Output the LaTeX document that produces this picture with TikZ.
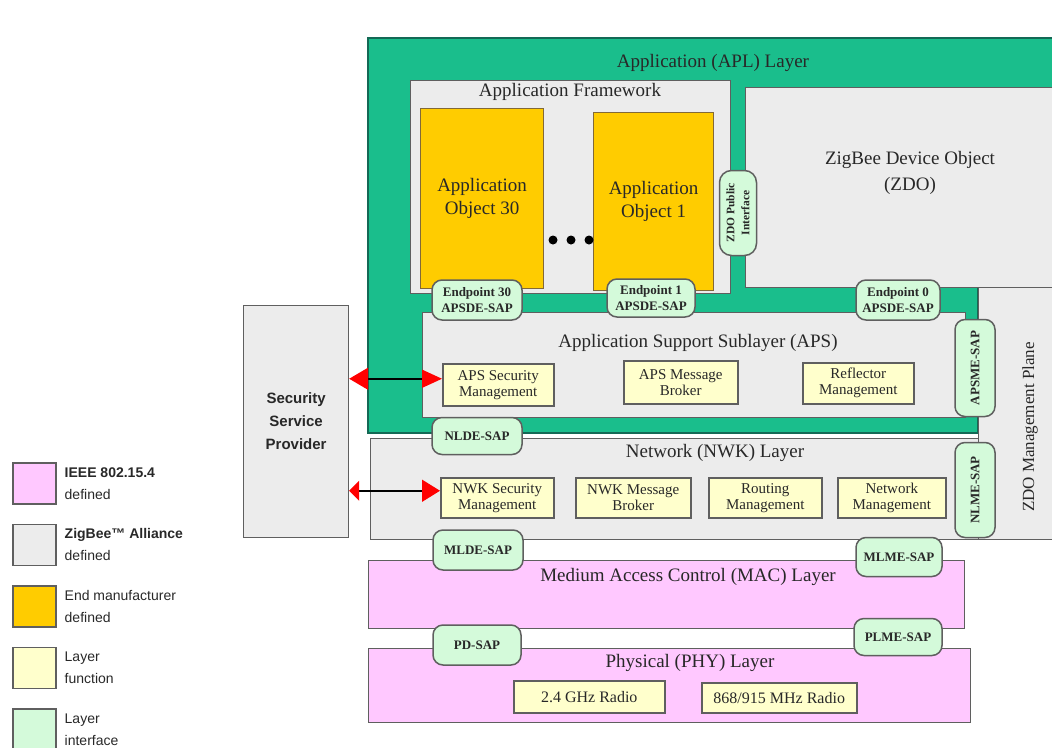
\documentclass[tikz,border=0pt]{standalone}
\usepackage{fontspec}
\setmainfont{Liberation Serif}
\setsansfont{Liberation Sans}
\usetikzlibrary{shapes.geometric, arrows, arrows.meta, positioning, calc}

\definecolor{aplgreen}{RGB}{26,190,140}
\definecolor{apledge}{RGB}{20,105,85}
\definecolor{zbgray}{RGB}{236,236,236}
\definecolor{linegray}{RGB}{95,95,95}
\definecolor{mfrorange}{RGB}{255,204,0}
\definecolor{mfredge}{RGB}{130,105,55}
\definecolor{funcyellow}{RGB}{255,255,204}
\definecolor{sapgreen}{RGB}{212,250,218}
\definecolor{ieeepink}{RGB}{255,200,255}
\definecolor{txtgray}{RGB}{40,40,40}

\begin{document}
\begin{tikzpicture}[x=1pt, y=-1pt, node distance=19pt]
        \tikzstyle{ttl} = [font=\fontsize{19}{22}\selectfont, text=txtgray, inner sep=0pt]
        \tikzstyle{zbbox} = [rectangle, anchor=north west, draw=linegray, line width=1.2pt, fill=zbgray, inner sep=0pt]
        \tikzstyle{ieeebox} = [zbbox, fill=ieeepink]
        \tikzstyle{appobj} = [zbbox, draw=mfredge, fill=mfrorange, align=center, text=txtgray, font=\fontsize{19}{23}\selectfont]
        \tikzstyle{func} = [rectangle, anchor=north west, draw=linegray, line width=1.5pt, fill=funcyellow, align=center, text=txtgray, inner sep=0pt, font=\fontsize{15}{16}\selectfont]
        \tikzstyle{sap} = [rectangle, rounded corners=10pt, draw=linegray, line width=1.5pt, fill=sapgreen, align=center, text=txtgray, inner sep=0pt, font=\bfseries\fontsize{13}{16}\selectfont]
        \tikzstyle{vsap} = [sap, rotate=90]
        \tikzstyle{legbox} = [rectangle, anchor=north west, draw=linegray, line width=1.5pt, minimum width=43pt, minimum height=41pt, inner sep=0pt]
        \tikzstyle{legtxt} = [align=left, inner sep=0pt, text=txtgray, font=\sffamily\fontsize{14}{22}\selectfont]
        \tikzstyle{secarrow} = [line width=1.5pt, black]

        \useasboundingbox (0,0) rectangle (1052,747);

        \draw [fill=aplgreen, draw=apledge, line width=1.5pt] (368,38) -- (1060,38) -- (1060,287) -- (978,287) -- (978,433) -- (368,433) -- cycle;
        \node (aplttl) [ttl] at (713,63) {Application (APL) Layer};

        \node (af) [zbbox, minimum width=320pt, minimum height=213pt] at (410,80) {};
        \node (afttl) [ttl] at (570,92) {Application Framework};
        \node (obj30) [appobj, minimum width=123pt, minimum height=180pt] at (420,108) {Application\\Object 30};
        \node (obj1) [appobj, minimum width=120pt, minimum height=178pt] at (593,112) {Application\\Object 1};
        \foreach \dx in {553,571,589}
            \fill [black] (\dx,240) circle (4.5pt);

        \node (zdo) [zbbox, minimum width=315pt, minimum height=200pt] at (745,87) {};
        \node (zdottl) [ttl, align=center, font=\fontsize{19}{26}\selectfont] at (910,173) {ZigBee Device Object\\(ZDO)};

        \node (aps) [zbbox, minimum width=543pt, minimum height=105pt] at (422,312) {};
        \node (apsttl) [ttl] at (698,343) {Application Support Sublayer (APS)};
        \node (apssec) [func, minimum width=111pt, minimum height=42pt] at (442,363) {APS Security\\Management};
        \node (apsmb) [func, minimum width=114pt, minimum height=43pt] at (623,360) {APS Message\\Broker};
        \node (refl) [func, minimum width=111pt, minimum height=41pt] at (802,362) {Reflector\\Management};

        \node (zdomp) [zbbox, minimum width=82pt, minimum height=252pt] at (978,287) {};
        \node (zdompttl) [ttl, rotate=90, font=\fontsize{17}{20}\selectfont] at (1030,427) {ZDO Management Plane};

        \node (ssp) [zbbox, minimum width=105pt, minimum height=232pt, align=center, text=txtgray, font=\sffamily\bfseries\fontsize{15}{23}\selectfont] at (243,305) {Security\\Service\\Provider};

        \node (nwk) [zbbox, minimum width=608pt, minimum height=101pt] at (370,438) {};
        \node (nwkttl) [ttl] at (715,453) {Network (NWK) Layer};
        \node (nwksec) [func, minimum width=113pt, minimum height=40pt] at (440,477) {NWK Security\\Management};
        \node (nwkmb) [func, minimum width=115pt, minimum height=40pt] at (575,477) {NWK Message\\Broker};
        \node (routing) [func, minimum width=113pt, minimum height=40pt] at (708,477) {Routing\\Management};
        \node (netmgmt) [func, minimum width=108pt, minimum height=40pt] at (837,477) {Network\\Management};

        \node (mac) [ieeebox, minimum width=596pt, minimum height=68pt] at (368,560) {};
        \node (macttl) [ttl] at (688,577) {Medium Access Control (MAC) Layer};

        \node (phy) [ieeebox, minimum width=602pt, minimum height=74pt] at (368,648) {};
        \node (phyttl) [ttl] at (690,663) {Physical (PHY) Layer};
        \node (radio24) [func, minimum width=151pt, minimum height=32pt, font=\fontsize{16}{18}\selectfont] at (513,680) {2.4 GHz Radio};
        \node (radio868) [func, minimum width=155pt, minimum height=30pt, font=\fontsize{16}{18}\selectfont] at (701,682) {868/915 MHz Radio};

        \node (zdopi) [vsap, minimum width=85pt, minimum height=37pt, rounded corners=12pt, font=\bfseries\fontsize{11.5}{15}\selectfont] at (738,213) {ZDO Public\\Interface};
        \node (ep30) [sap, minimum width=90pt, minimum height=40pt] at (477,300) {Endpoint 30\\APSDE-SAP};
        \node (ep1) [sap, minimum width=88pt, minimum height=38pt] at (651,298) {Endpoint 1\\APSDE-SAP};
        \node (ep0) [sap, minimum width=84pt, minimum height=40pt] at (898,300) {Endpoint 0\\APSDE-SAP};
        \node (apsme) [vsap, minimum width=97pt, minimum height=40pt] at (975,368) {APSME-SAP};
        \node (nlde) [sap, minimum width=90pt, minimum height=37pt] at (477,436) {NLDE-SAP};
        \node (nlme) [vsap, minimum width=95pt, minimum height=40pt] at (975,490) {NLME-SAP};
        \node (mlde) [sap, minimum width=90pt, minimum height=40pt] at (478,550) {MLDE-SAP};
        \node (mlme) [sap, minimum width=86pt, minimum height=39pt] at (899,557) {MLME-SAP};
        \node (pdsap) [sap, minimum width=88pt, minimum height=40pt] at (477,645) {PD-SAP};
        \node (plme) [sap, minimum width=88pt, minimum height=37pt] at (898,637) {PLME-SAP};

        \coordinate (apsin) at ([yshift=6pt]apssec.west);
        \coordinate (nwkin) at ([yshift=7pt]nwksec.west);
        \draw [secarrow, {Triangle[length=19pt,width=22pt,color=red]}-{Triangle[length=20pt,width=18pt,color=red]}] (ssp.east |- apsin) -- (apsin);
        \draw [secarrow, {Triangle[length=10pt,width=20pt,color=red]}-{Triangle[length=18pt,width=22pt,color=red]}] (ssp.east |- nwkin) -- (nwkin);

        \node (legieee) [legbox, fill=ieeepink] at (12,462) {};
        \node (legzb) [legbox, fill=zbgray, below=of legieee] {};
        \node (legmfr) [legbox, fill=mfrorange, below=of legzb] {};
        \node (legfunc) [legbox, fill=funcyellow, below=of legmfr] {};
        \node (legsap) [legbox, fill=sapgreen, below=of legfunc] {};
        \node (legieeetxt) [legtxt, right=8pt of legieee] {\textbf{IEEE 802.15.4}\\defined};
        \node (legzbtxt) [legtxt, right=8pt of legzb] {\textbf{ZigBee\texttrademark\ Alliance}\\defined};
        \node (legmfrtxt) [legtxt, right=8pt of legmfr] {End manufacturer\\defined};
        \node (legfunctxt) [legtxt, right=8pt of legfunc] {Layer\\function};
        \node (legsaptxt) [legtxt, right=8pt of legsap] {Layer\\interface};
    \end{tikzpicture}
\end{document}
